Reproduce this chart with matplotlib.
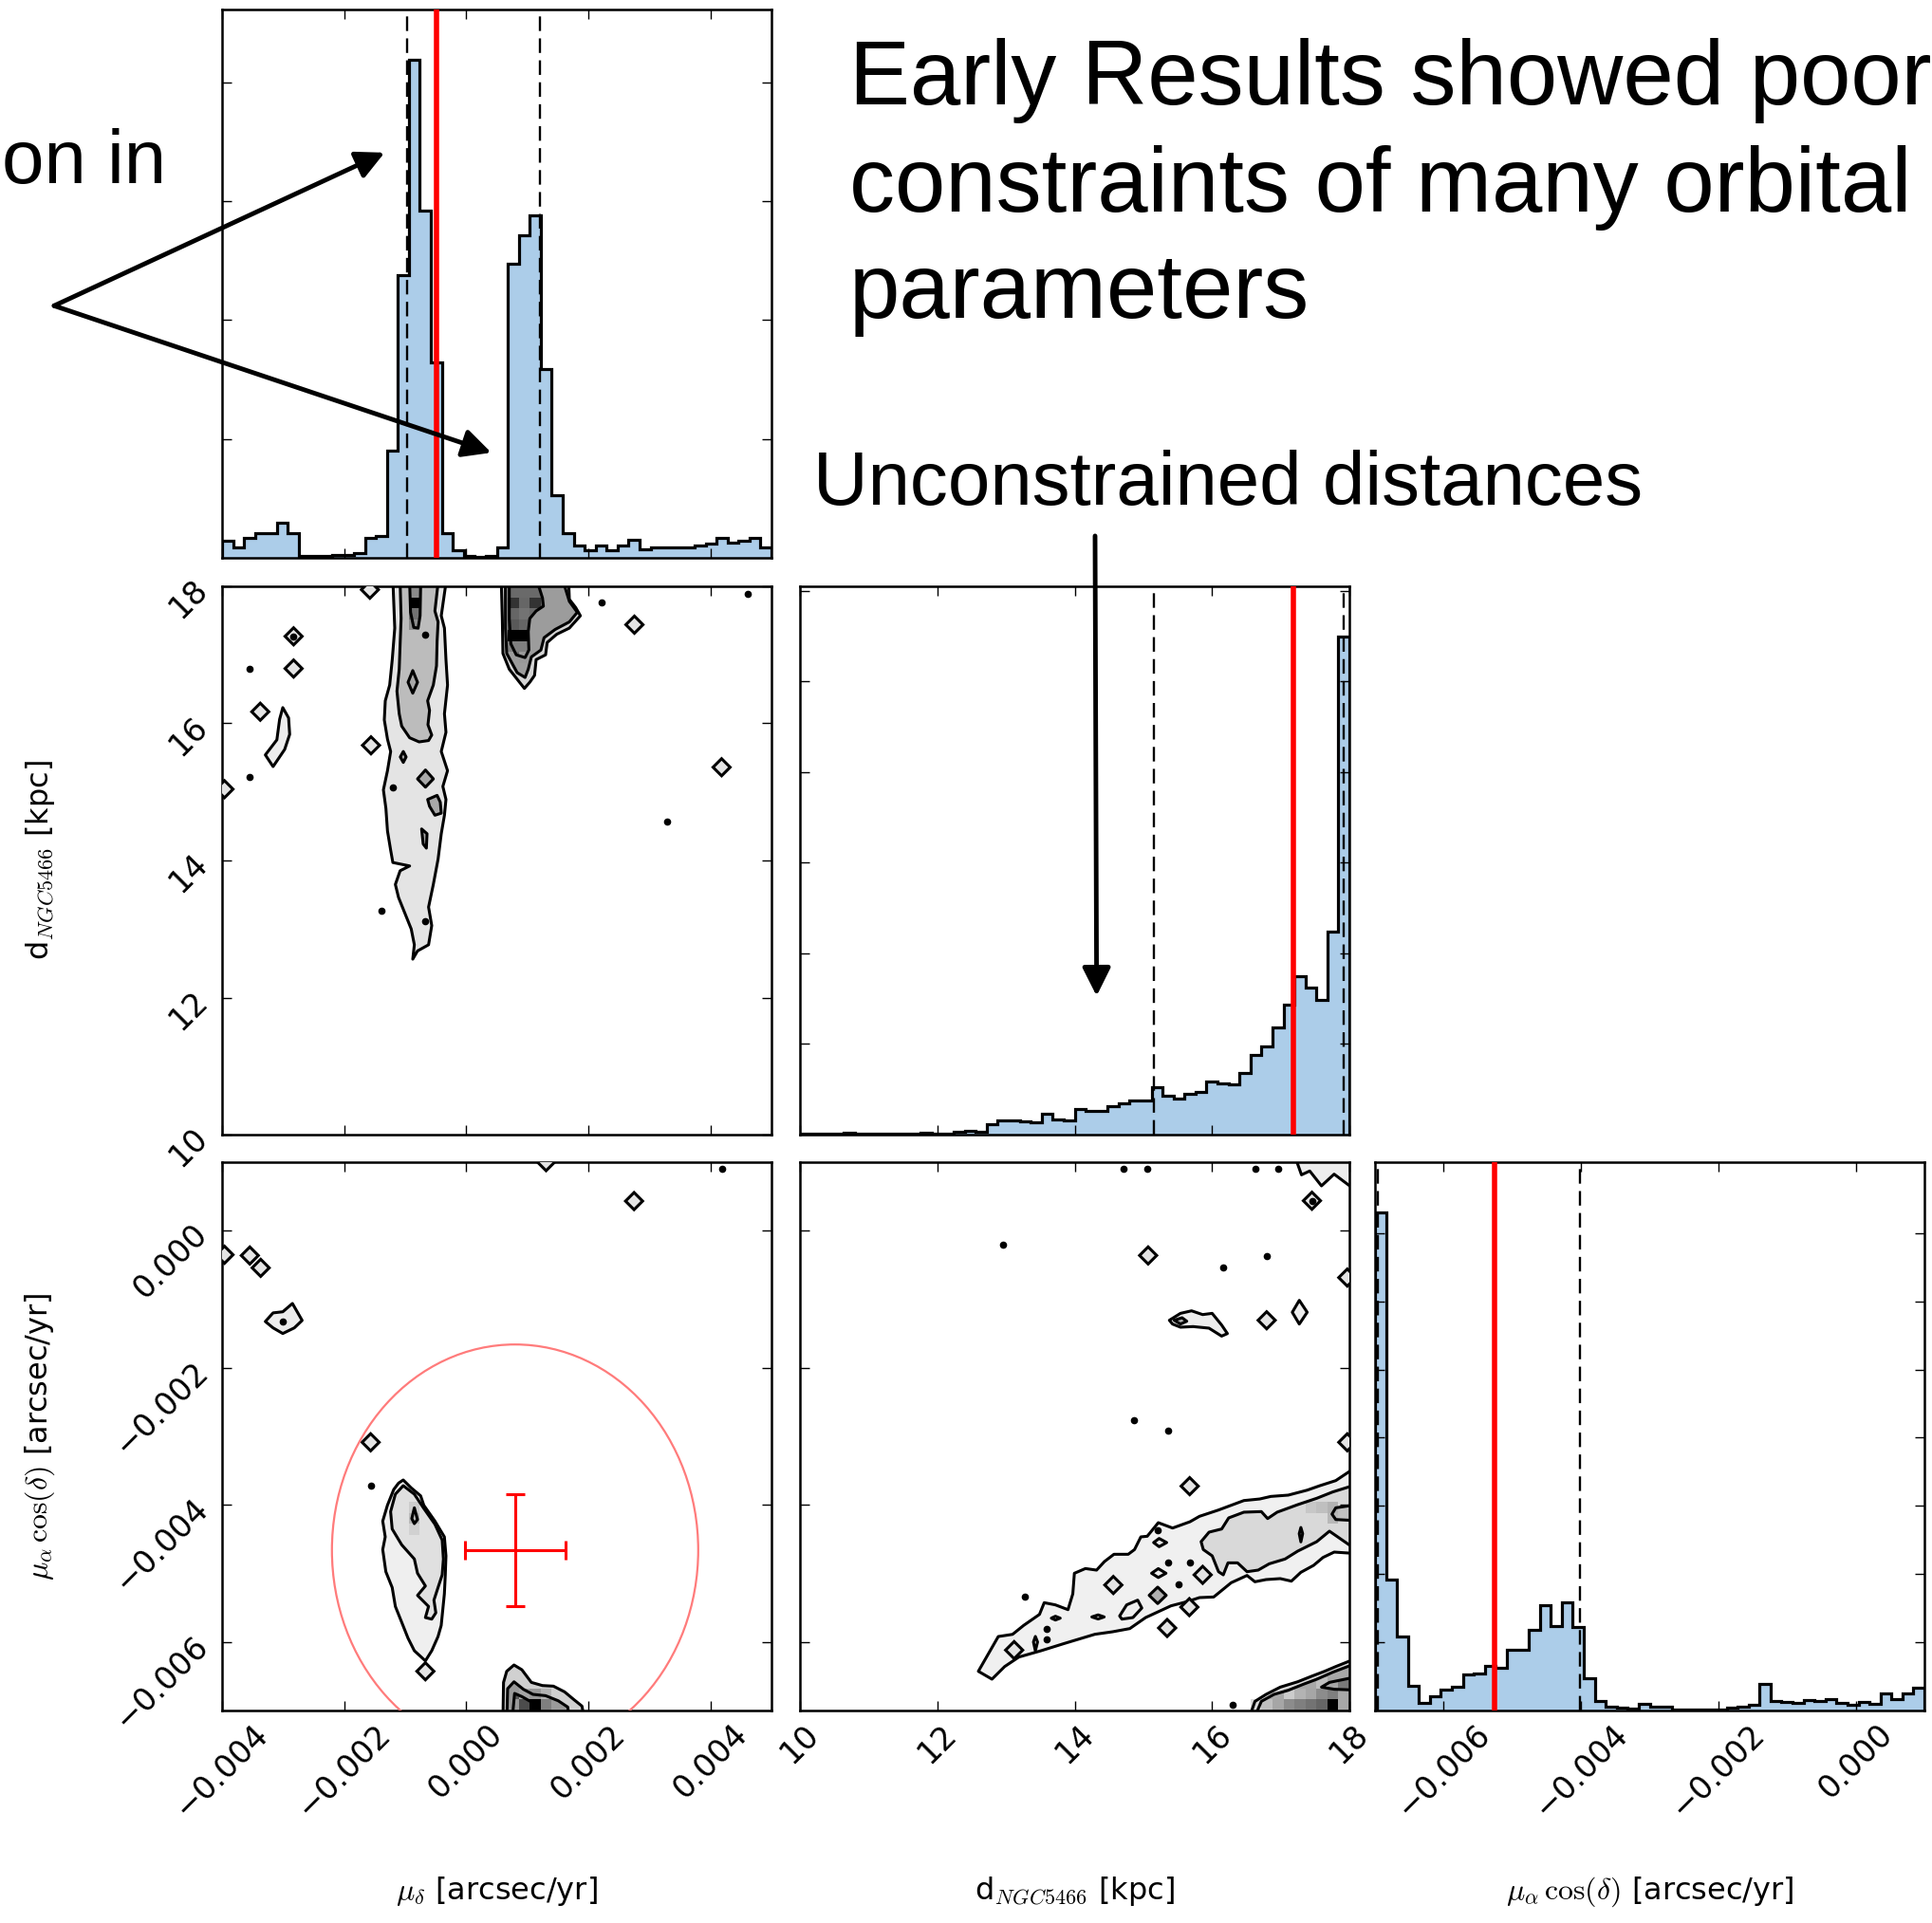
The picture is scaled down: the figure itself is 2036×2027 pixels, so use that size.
import matplotlib
import numpy as np

matplotlib.use("Agg")
import matplotlib.pyplot as plt  # noqa: E402
from matplotlib.patches import Ellipse, Polygon, Rectangle  # noqa: E402
from matplotlib.ticker import FuncFormatter  # noqa: E402

plt.rcParams["mathtext.fontset"] = "cm"
plt.rcParams["axes.linewidth"] = 1.8

# parameter ranges: mu_delta, distance, mu_alpha cos(delta)
MU_D_LIM = (-0.004, 0.005)
DIST_LIM = (10.0, 18.0)
MU_A_LIM = (-0.007, 0.001)
N_BINS = 50

MU_D_TICKS = [-0.004, -0.002, 0.0, 0.002, 0.004]
DIST_TICKS = [10, 12, 14, 16, 18]
MU_A_TICKS = [-0.006, -0.004, -0.002, 0.0]

# 1-D marginal posteriors (samples per bin)
mu_d_counts = [29, 18, 34, 42, 41, 59, 41, 3, 3, 3, 4, 4, 8, 34, 37, 180, 476, 839, 585, 329,
               42, 12, 3, 2, 3, 18, 495, 543, 576, 317, 106, 42, 21, 12, 20, 12, 21, 30, 14, 17,
               18, 17, 18, 21, 24, 34, 26, 29, 34, 17]
dist_counts = [6, 4, 6, 6, 8, 6, 6, 6, 6, 6, 6, 8, 6, 3, 14, 21, 14, 55, 80, 80,
               72, 66, 116, 85, 80, 140, 129, 129, 157, 173, 190, 190, 264, 215, 198, 226, 234, 292, 283, 275,
               341, 440, 487, 589, 718, 872, 811, 743, 1122, 2750]
mu_a_counts = [1462, 383, 218, 73, 23, 42, 60, 69, 105, 108, 130, 124, 178, 178, 237, 308, 249, 317, 246, 95,
               29, 12, 7, 6, 20, 10, 10, 4, 4, 4, 4, 4, 7, 11, 18, 77, 29, 26, 22, 31,
               29, 34, 23, 16, 25, 20, 51, 34, 51, 66]

# quantiles (dashed) and input values (red)
mu_d_quant = [-0.000975, 0.001205]
dist_quant = [15.15, 17.92]
mu_a_quant = [-0.00696, -0.00402]
mu_d_true = -0.00049
dist_true = 17.18
mu_a_true = -0.00526

# measured proper motion with errors and the prior circle
pm_obs = (0.00080, -0.00466)
pm_err = (0.00082, 0.00082)
pm_prior_radius = 0.0030

K = 1e-3  # proper-motion vertices below are written in units of 1e-3 arcsec/yr

# ---- contour levels (outer, middle, inner) ----
# mu_delta (x, 1e-3) vs distance (y, kpc)
A_streak = [
    [(-1.200, 18.05), (-1.171, 17.39), (-1.212, 16.93), (-1.254, 16.56), (-1.326, 16.33), (-1.342, 16.05),
     (-1.290, 15.77), (-1.238, 15.59), (-1.290, 15.31), (-1.357, 15.03), (-1.316, 14.76), (-1.290, 14.43),
     (-1.238, 14.15), (-1.202, 13.97), (-0.927, 13.92), (-1.083, 13.85), (-1.161, 13.65), (-1.109, 13.46),
     (-1.005, 13.23), (-0.901, 13.00), (-0.850, 12.77), (-0.876, 12.56), (-0.798, 12.68), (-0.617, 12.77),
     (-0.565, 13.05), (-0.617, 13.32), (-0.539, 13.65), (-0.461, 14.02), (-0.409, 14.39), (-0.357, 14.66),
     (-0.332, 14.89), (-0.383, 15.08), (-0.306, 15.31), (-0.409, 15.59), (-0.332, 15.87), (-0.357, 16.14),
     (-0.306, 16.56), (-0.332, 16.93), (-0.357, 17.39), (-0.409, 17.57), (-0.332, 18.05)],
    [(-1.083, 18.05), (-1.067, 17.53), (-1.083, 17.16), (-1.098, 16.79), (-1.135, 16.47), (-1.098, 16.14),
     (-1.057, 15.96), (-0.927, 15.79), (-0.772, 15.73), (-0.617, 15.75), (-0.565, 15.83), (-0.627, 15.98),
     (-0.601, 16.19), (-0.632, 16.33), (-0.539, 16.56), (-0.487, 16.84), (-0.477, 17.20), (-0.461, 17.48),
     (-0.513, 17.64), (-0.461, 18.05)],
    [(-0.927, 18.05), (-0.912, 17.62), (-0.860, 17.40), (-0.788, 17.39), (-0.756, 17.57), (-0.746, 18.05)],
]
A_blob = [
    [(0.575, 18.05), (0.591, 17.53), (0.601, 17.02), (0.705, 16.79), (0.953, 16.51), (1.041, 16.60),
     (1.119, 16.70), (1.145, 16.93), (1.300, 17.00), (1.326, 17.18), (1.482, 17.30), (1.689, 17.39),
     (1.870, 17.57), (1.793, 17.69), (1.689, 17.81), (1.679, 18.05)],
    [(0.642, 18.05), (0.642, 17.39), (0.663, 17.02), (0.834, 16.74), (0.964, 16.67), (1.016, 16.79),
     (1.067, 16.97), (1.223, 17.07), (1.275, 17.25), (1.456, 17.37), (1.689, 17.48), (1.819, 17.62),
     (1.689, 17.78), (1.596, 18.05)],
    [(0.705, 18.05), (0.705, 17.53), (0.731, 17.16), (0.819, 17.00), (0.964, 16.96), (1.026, 17.07),
     (1.016, 17.34), (1.041, 17.53), (1.145, 17.64), (1.264, 17.71), (1.249, 17.83), (1.171, 18.05)],
]
A_islands = [
    [(-3.005, 16.23), (-2.910, 16.08), (-2.892, 15.84), (-2.974, 15.62), (-3.164, 15.37), (-3.291, 15.54),
     (-3.102, 15.76), (-3.057, 16.06)],
]
A_spots = [
    [(-0.876, 16.77), (-0.798, 16.60), (-0.876, 16.44), (-0.953, 16.60)],
    [(-0.798, 15.19), (-0.668, 15.32), (-0.538, 15.19), (-0.668, 15.07)],
    [(-0.632, 14.89), (-0.477, 14.95), (-0.425, 14.85), (-0.409, 14.69), (-0.513, 14.66), (-0.601, 14.79)],
    [(-0.731, 14.46), (-0.642, 14.39), (-0.653, 14.18), (-0.705, 14.24)],
    [(-1.080, 15.51), (-1.031, 15.59), (-0.985, 15.51), (-1.031, 15.43)],
]
A_diamonds = [(-2.828, 17.27), (-2.828, 16.80), (-3.374, 16.17), (-3.960, 15.04), (-1.560, 15.68),
              (-1.578, 17.95), (2.755, 17.44), (4.183, 15.36)]
A_dots = [(-3.545, 16.80), (-3.545, 15.22), (2.210, 17.77), (-1.202, 15.06), (-0.668, 17.30),
          (-0.668, 13.11), (3.289, 14.57), (-1.389, 13.27), (4.608, 17.89), (-2.828, 17.27)]
A_cells = [(17, 48, 1.0), (17, 47, 0.55), (17, 46, 0.45), (26, 45, 1.0), (27, 45, 1.0), (26, 48, 0.8),
           (27, 48, 0.6), (28, 48, 0.8), (26, 46, 0.65), (27, 46, 0.6), (26, 47, 0.6), (27, 47, 0.55),
           (26, 44, 0.5), (27, 44, 0.5), (27, 43, 0.4)]

# mu_delta (x, 1e-3) vs mu_alpha cos(delta) (y, 1e-3)
B_main = [
    [(-1.032, -3.637), (-0.902, -3.752), (-0.747, -3.868), (-0.695, -4.006), (-0.513, -4.237),
     (-0.358, -4.467), (-0.332, -4.744), (-0.343, -5.021), (-0.358, -5.298), (-0.384, -5.529),
     (-0.410, -5.759), (-0.462, -5.921), (-0.565, -6.128), (-0.669, -6.276), (-0.850, -6.128),
     (-0.954, -5.944), (-1.057, -5.713), (-1.161, -5.482), (-1.213, -5.206), (-1.317, -4.975),
     (-1.368, -4.652), (-1.327, -4.467), (-1.368, -4.237), (-1.291, -4.006), (-1.187, -3.775),
     (-1.109, -3.683)],
    [(-1.032, -3.720), (-0.850, -3.844), (-0.695, -4.052), (-0.513, -4.283), (-0.394, -4.514),
     (-0.374, -4.790), (-0.394, -5.021), (-0.462, -5.206), (-0.529, -5.390), (-0.498, -5.575),
     (-0.565, -5.667), (-0.669, -5.644), (-0.617, -5.482), (-0.798, -5.321), (-0.669, -5.183),
     (-0.798, -4.998), (-0.850, -4.790), (-1.057, -4.583), (-1.213, -4.352), (-1.239, -4.098),
     (-1.161, -3.844)],
    [(-0.850, -4.043), (-0.798, -4.214), (-0.850, -4.274), (-0.892, -4.200)],
]
B_low = [
    [(0.600, -7.2), (0.611, -6.590), (0.663, -6.428), (0.782, -6.336), (0.911, -6.405), (1.067, -6.590),
     (1.248, -6.636), (1.429, -6.645), (1.611, -6.728), (1.766, -6.843), (1.896, -6.936), (1.950, -7.2)],
    [(0.663, -7.2), (0.678, -6.682), (0.782, -6.581), (0.937, -6.691), (1.093, -6.765), (1.300, -6.784),
     (1.507, -6.858), (1.663, -6.950), (1.700, -7.2)],
    [(0.745, -7.2), (0.792, -6.751), (0.911, -6.797), (1.093, -6.889), (1.248, -7.2)],
]
B_islands = [
    [(-3.291, -1.325), (-3.164, -1.199), (-3.005, -1.183), (-2.847, -1.062), (-2.688, -1.309),
     (-2.816, -1.418), (-3.005, -1.500), (-3.164, -1.418)],
]
B_diamonds = [(2.749, 0.432), (-3.960, -0.351), (-3.545, -0.362), (-3.367, -0.542), (-1.566, -3.087),
              (-0.669, -6.428), (1.308, 1.000)]
B_dots = [(4.195, 0.898), (-3.005, -1.325), (-1.566, -3.720)]
B_cells = [(28, 0, 1.0), (27, 0, 0.7), (29, 0, 0.5), (26, 0, 0.4), (27, 1, 0.35), (28, 1, 0.4),
           (29, 1, 0.3), (17, 18, 0.2), (17, 17, 0.28), (17, 16, 0.18)]

# distance (x, kpc) vs mu_alpha cos(delta) (y, 1e-3)
C_streak = [
    [(18.05, -4.707), (17.779, -4.689), (17.617, -4.767), (17.479, -4.883), (17.294, -4.984),
     (17.156, -5.113), (16.994, -5.076), (16.787, -5.090), (16.625, -5.122), (16.510, -5.030),
     (16.279, -5.136), (16.025, -5.344), (15.818, -5.353), (15.634, -5.413), (15.403, -5.473),
     (15.034, -5.644), (14.803, -5.805), (14.549, -5.852), (14.295, -5.888), (13.834, -6.027),
     (13.511, -6.128), (13.188, -6.220), (12.981, -6.359), (12.796, -6.543), (12.598, -6.428),
     (12.888, -5.921), (13.096, -5.889), (13.257, -5.759), (13.488, -5.598), (13.557, -5.427),
     (13.719, -5.459), (13.903, -5.529), (13.973, -5.298), (13.996, -4.998), (14.157, -4.929),
     (14.319, -4.952), (14.434, -4.827), (14.572, -4.721), (14.780, -4.721), (14.872, -4.652),
     (14.964, -4.467), (15.057, -4.458), (15.218, -4.260), (15.426, -4.338), (15.680, -4.246),
     (15.818, -4.167), (16.095, -4.075), (16.279, -4.006), (16.464, -3.937), (16.695, -3.914),
     (16.856, -3.877), (17.110, -3.858), (17.387, -3.785), (17.571, -3.720), (17.802, -3.646),
     (18.05, -3.480)],
    [(18.05, -3.720), (17.756, -3.812), (17.525, -3.904), (17.248, -3.997), (16.948, -4.107),
     (16.810, -4.200), (16.718, -4.098), (16.464, -4.107), (16.243, -4.190), (16.141, -4.352),
     (15.957, -4.398), (15.841, -4.537), (15.873, -4.652), (16.003, -4.744), (16.095, -4.975),
     (16.164, -5.021), (16.233, -4.846), (16.372, -4.846), (16.510, -4.975), (16.672, -4.952),
     (16.833, -4.860), (17.064, -4.790), (17.248, -4.675), (17.525, -4.537), (17.710, -4.384),
     (18.05, -4.620)],
    [(18.05, -4.006), (17.802, -4.043), (17.747, -4.135), (17.802, -4.214), (18.05, -4.227)],
]
C_low = [
    [(16.510, -7.2), (16.625, -6.867), (16.787, -6.765), (16.994, -6.659), (17.248, -6.581),
     (17.456, -6.498), (17.640, -6.428), (17.802, -6.359), (18.05, -6.260), (18.05, -7.2)],
    [(16.579, -7.2), (16.718, -6.867), (16.902, -6.765), (17.110, -6.705), (17.340, -6.613),
     (17.525, -6.544), (17.756, -6.442), (18.05, -6.330), (18.05, -7.2)],
    [(17.594, -6.659), (17.710, -6.590), (18.05, -6.520), (18.05, -6.700), (17.780, -6.690)],
]
C_islands = [
    [(15.379, -1.307), (15.541, -1.206), (15.702, -1.169), (15.864, -1.224), (16.002, -1.206),
     (16.140, -1.376), (16.224, -1.501), (16.140, -1.538), (15.956, -1.422), (15.725, -1.399),
     (15.541, -1.408), (15.425, -1.362)],
    [(17.202, 1.100), (17.303, 0.815), (17.423, 0.871), (17.594, 0.654), (17.778, 0.825),
     (18.05, 0.620), (18.05, 1.100)],
    [(14.655, -5.621), (14.757, -5.459), (14.918, -5.390), (14.978, -5.505), (14.849, -5.644),
     (14.688, -5.667)],
    [(17.271, -1.016), (17.386, -1.190), (17.271, -1.362), (17.169, -1.190)],
    [(14.25, -5.635), (14.342, -5.605), (14.43, -5.635), (14.342, -5.665)],
    [(13.66, -5.653), (13.72, -5.625), (13.79, -5.653), (13.72, -5.680)],
    [(13.428, -5.920), (13.460, -6.000), (13.428, -6.130), (13.400, -6.000)],
    [(15.12, -4.998), (15.218, -4.930), (15.33, -4.998), (15.218, -5.060)],
    [(15.15, -4.550), (15.23, -4.490), (15.34, -4.550), (15.23, -4.610)],
]
C_spots = [
    [(15.448, -1.307), (15.564, -1.270), (15.633, -1.321), (15.541, -1.362)],
    [(15.085, -5.320), (15.209, -5.200), (15.333, -5.320), (15.209, -5.440)],
    [(17.294, -4.330), (17.320, -4.420), (17.294, -4.540), (17.270, -4.420)],
]
C_diamonds = [(17.455, 0.437), (15.070, -0.361), (16.796, -1.307), (17.970, -0.684), (17.970, -3.087),
              (15.675, -3.727), (15.864, -5.021), (15.670, -5.492), (15.347, -5.796), (13.119, -6.119),
              (14.563, -5.169)]
C_dots = [(14.710, 0.908), (15.056, 0.908), (16.639, 0.908), (16.962, 0.908), (16.163, -0.532),
          (16.796, -0.366), (12.951, -0.203), (14.867, -2.759), (15.359, -2.911), (15.209, -4.366),
          (15.357, -4.846), (15.680, -4.846), (15.518, -5.159), (13.271, -5.335), (13.594, -5.805),
          (13.594, -5.958), (17.455, 0.437), (16.300, -6.922)]
C_cells = [(48, 0, 1.0), (47, 0, 0.6), (46, 0, 0.55), (45, 0, 0.5), (44, 0, 0.45), (43, 0, 0.35),
           (42, 0, 0.25), (41, 0, 0.15), (48, 1, 0.5), (47, 1, 0.45), (46, 1, 0.35), (45, 1, 0.3),
           (44, 1, 0.2), (48, 2, 0.35), (47, 2, 0.25), (46, 18, 0.22), (47, 18, 0.25), (48, 18, 0.3),
           (48, 17, 0.28)]

# annotation text
title_lines = ["Early Results showed poor", "constraints of many orbital", "parameters"]
dist_note = "Unconstrained distances"
split_note = "on in"
split_tips = [(-0.001337, 682), (0.000411, 177)]
dist_tip = (14.32, 765)

HIST_BLUE = "#accde9"
OUTLINE_LW = 2.2


def _fmt3(v, _pos):
    return f"{v:.3f}".replace("-", "\u2212")


def _fmt0(v, _pos):
    return f"{v:.0f}"


def _scaled(verts, sx, sy):
    return [(x * sx, y * sy) for x, y in verts]


def _diamond(x, y, hx, hy):
    return [(x - hx, y), (x, y + hy), (x + hx, y), (x, y - hy)]


def draw_hist(ax, counts, lim, quant, true_val, yticks):
    edges = np.linspace(lim[0], lim[1], N_BINS + 1)
    ax.stairs(counts, edges, fill=True, color=HIST_BLUE, zorder=1)
    ax.stairs(counts, edges, color="black", lw=2.3, zorder=2)
    for q in quant:
        ax.axvline(q, color="black", lw=1.7, dashes=(6.5, 3.3), zorder=3)
    ax.axvline(true_val, color="red", lw=4.0, zorder=4)
    ax.set_xlim(lim)
    ax.set_ylim(0, 1.1 * max(counts))
    ax.set_yticks(yticks)
    ax.tick_params(labelleft=False, labelbottom=False)


def draw_levels(ax, levels, fills, sx, sy):
    for verts, fc in zip(levels, fills):
        pts = _scaled(verts, sx, sy)
        ax.add_patch(Polygon(pts, closed=True, facecolor=fc, edgecolor="none", zorder=1))
    for verts in levels:
        pts = _scaled(verts, sx, sy)
        ax.add_patch(Polygon(pts, closed=True, fill=False, edgecolor="black",
                             lw=OUTLINE_LW, joinstyle="round", zorder=3))


def draw_cells(ax, cells, xlim, ylim):
    dx = (xlim[1] - xlim[0]) / N_BINS
    dy = (ylim[1] - ylim[0]) / N_BINS
    cmap = plt.get_cmap("gray_r")
    for i, j, v in cells:
        ax.add_patch(Rectangle((xlim[0] + i * dx, ylim[0] + j * dy), dx, dy,
                               facecolor=cmap(v), edgecolor="none", zorder=2))


def draw_marks(ax, diamonds, dots, hx, hy, sx, sy):
    for x, y in diamonds:
        ax.add_patch(Polygon(_diamond(x * sx, y * sy, hx, hy), closed=True, facecolor="#e4e4e4",
                             edgecolor="black", lw=OUTLINE_LW, zorder=3))
    if dots:
        xs, ys = zip(*dots)
        ax.plot(np.array(xs) * sx, np.array(ys) * sy, "o", ms=4.5, color="black", zorder=3)


def style_axes(ax, xlim, ylim, xticks, yticks):
    ax.set_xlim(xlim)
    ax.set_ylim(ylim)
    ax.set_xticks(xticks)
    if yticks is not None:
        ax.set_yticks(yticks)
    ax.tick_params(direction="in", top=True, right=True, length=7.5, width=1.0,
                   labelsize=24, pad=6)


fig = plt.figure(figsize=(20.36, 20.27), dpi=100)
FW, FH = 2036, 2027
col_x = [234, 843, 1449]
row_y = [10, 618, 1225]
PW, PH = 579, 578


def panel(r, c):
    return fig.add_axes([col_x[c] / FW, 1 - (row_y[r] + PH) / FH, PW / FW, PH / FH])


ax_h1 = panel(0, 0)
ax_a = panel(1, 0)
ax_h2 = panel(1, 1)
ax_b = panel(2, 0)
ax_c = panel(2, 1)
ax_h3 = panel(2, 2)

# marginals
style_axes(ax_h1, MU_D_LIM, None, MU_D_TICKS, None)
draw_hist(ax_h1, mu_d_counts, MU_D_LIM, mu_d_quant, mu_d_true, [200, 400, 600, 800])
style_axes(ax_h2, DIST_LIM, None, DIST_TICKS, None)
draw_hist(ax_h2, dist_counts, DIST_LIM, dist_quant, dist_true, [500, 1000, 1500, 2000, 2500, 3000])
style_axes(ax_h3, MU_A_LIM, None, MU_A_TICKS, None)
draw_hist(ax_h3, mu_a_counts, MU_A_LIM, mu_a_quant, mu_a_true,
          [200, 400, 600, 800, 1000, 1200, 1400])
ax_h3.tick_params(labelbottom=True)

# mu_delta vs distance
style_axes(ax_a, MU_D_LIM, DIST_LIM, MU_D_TICKS, DIST_TICKS)
draw_levels(ax_a, A_streak, ["#e4e4e4", "#bcbcbc", "#8c8c8c"], K, 1)
draw_levels(ax_a, A_blob, ["#d4d4d4", "#9c9c9c", "#6a6a6a"], K, 1)
draw_levels(ax_a, A_islands, ["#ececec"], K, 1)
draw_levels(ax_a, A_spots, ["#a8a8a8"] * len(A_spots), K, 1)
draw_cells(ax_a, A_cells, MU_D_LIM, DIST_LIM)
draw_marks(ax_a, A_diamonds, A_dots, 0.14 * K, 0.125, K, 1)
ax_a.tick_params(labelbottom=False)

# mu_delta vs mu_alpha
style_axes(ax_b, MU_D_LIM, MU_A_LIM, MU_D_TICKS, MU_A_TICKS)
draw_levels(ax_b, B_main, ["#efefef", "#e0e0e0", "#bdbdbd"], K, K)
draw_levels(ax_b, B_low, ["#d0d0d0", "#9a9a9a", "#5a5a5a"], K, K)
draw_levels(ax_b, B_islands, ["#ececec"], K, K)
draw_cells(ax_b, B_cells, MU_D_LIM, MU_A_LIM)
draw_marks(ax_b, B_diamonds, B_dots, 0.14 * K, 0.125 * K, K, K)
ax_b.add_patch(Ellipse(pm_obs, 2 * pm_prior_radius, 2 * pm_prior_radius, fill=False,
                       edgecolor="#ff7b7b", lw=1.6, zorder=4))
ax_b.errorbar(pm_obs[0], pm_obs[1], xerr=pm_err[0], yerr=pm_err[1], color="red",
              lw=2.2, capsize=7, capthick=2.2, zorder=5)

# distance vs mu_alpha
style_axes(ax_c, DIST_LIM, MU_A_LIM, DIST_TICKS, MU_A_TICKS)
draw_levels(ax_c, C_streak, ["#f0f0f0", "#d9d9d9", "#c0c0c0"], 1, K)
draw_levels(ax_c, C_low, ["#dcdcdc", "#a8a8a8", "#7a7a7a"], 1, K)
draw_levels(ax_c, C_islands, ["#ededed"] * len(C_islands), 1, K)
draw_levels(ax_c, C_spots, ["#b0b0b0"] * len(C_spots), 1, K)
draw_cells(ax_c, C_cells, DIST_LIM, MU_A_LIM)
draw_marks(ax_c, C_diamonds, C_dots, 0.125, 0.125 * K, 1, K)
ax_c.tick_params(labelleft=False)

for ax in (ax_a, ax_b):
    ax.tick_params(axis="y", labelrotation=45)
for ax in (ax_b, ax_c, ax_h3):
    ax.tick_params(axis="x", labelrotation=45)
for ax in (ax_a, ax_b, ax_h1, ax_h3):
    ax.xaxis.set_major_formatter(FuncFormatter(_fmt3))
ax_c.xaxis.set_major_formatter(FuncFormatter(_fmt0))
ax_b.yaxis.set_major_formatter(FuncFormatter(_fmt3))
ax_a.yaxis.set_major_formatter(FuncFormatter(_fmt0))

# axis labels
ax_b.set_xlabel(r"$\mu_\delta$ [arcsec/yr]", fontsize=23)
ax_c.set_xlabel(r"d$_{NGC5466}$ [kpc]", fontsize=23)
ax_h3.set_xlabel(r"$\mu_\alpha\,\cos(\delta)$ [arcsec/yr]", fontsize=23)
for ax in (ax_b, ax_c, ax_h3):
    ax.xaxis.set_label_coords(0.5, -0.30)
ax_a.set_ylabel(r"d$_{NGC5466}$ [kpc]", fontsize=23)
ax_b.set_ylabel(r"$\mu_\alpha\,\cos(\delta)$ [arcsec/yr]", fontsize=23)
for ax in (ax_a, ax_b):
    ax.yaxis.set_label_coords(-0.30, 0.5)

# annotations
for i, line in enumerate(title_lines):
    fig.text(0.4395, 0.9457 - i * 0.0555, line, fontsize=69, family="Liberation Sans",
             va="baseline", ha="left")
fig.text(0.421, 0.7375, dist_note, fontsize=57.5, family="Liberation Sans", va="baseline")
fig.text(0.001, 0.9048, split_note, fontsize=57.5, family="Liberation Sans", va="baseline")

arrow_style = dict(arrowstyle="-|>", lw=3.5, color="black", mutation_scale=45,
                   shrinkA=0, shrinkB=0)
for tip in split_tips:
    ax_h1.annotate("", xy=tip, xycoords="data", xytext=(0.028, 0.841),
                   textcoords="figure fraction", arrowprops=arrow_style,
                   annotation_clip=False, zorder=6)
ax_h2.annotate("", xy=dist_tip, xycoords="data", xytext=(0.5668, 0.7213),
               textcoords="figure fraction", arrowprops=arrow_style,
               annotation_clip=False, zorder=6)

fig.savefig("out.png", dpi=100)
